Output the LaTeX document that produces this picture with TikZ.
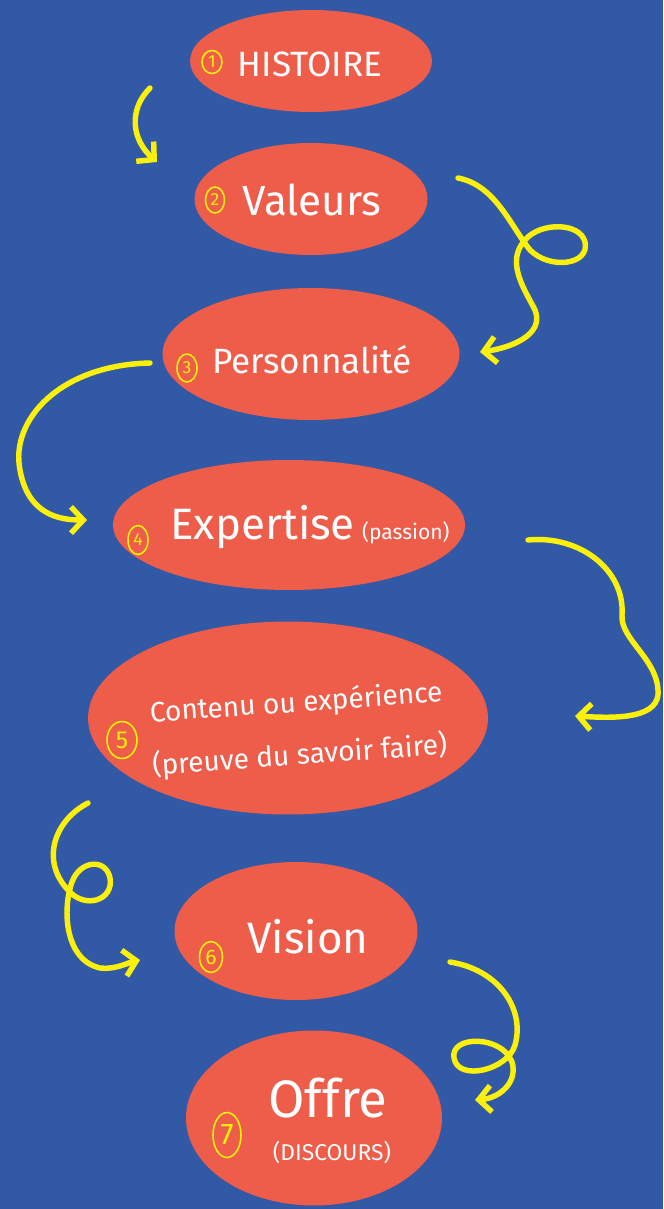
\documentclass[tikz,border=0pt]{standalone}
\usepackage{fontspec}
\setmainfont{Fira Sans}
\usetikzlibrary{shapes.geometric,arrows.meta}
\definecolor{fond}{RGB}{50,89,166}
\definecolor{bulle}{RGB}{238,92,74}
\definecolor{jaune}{RGB}{250,240,10}
\tikzset{
  bulle/.style={ellipse,fill=bulle,inner sep=0pt},
  texte/.style={text=white,align=center,inner sep=0pt},
  num/.style={ellipse,draw=jaune,text=jaune,line width=.9pt,inner sep=0pt,
    font=\fontsize{10}{11}\selectfont},
  fleche/.style={jaune,line width=3.1pt,line cap=round,
    -{Straight Barb[length=7pt,width=15pt]}}
}
\begin{document}
\begin{tikzpicture}[x=0.02cm,y=-0.02cm]
\fill[fond] (0,0) rectangle (663,1209);
% les bulles
\node[bulle,minimum width=4.84cm,minimum height=2.04cm] (b1) at (311,61) {};
\node[bulle,minimum width=4.66cm,minimum height=2.24cm] (b2) at (311,199) {};
\node[bulle,minimum width=5.94cm,minimum height=2.64cm] (b3) at (311,354) {};
\node[bulle,minimum width=7.04cm,minimum height=2.6cm] (b4) at (289,525) {};
\node[bulle,minimum width=8cm,minimum height=3.86cm] (b5) at (288,718) {};
\node[bulle,minimum width=4.86cm,minimum height=2.76cm] (b6) at (296,931) {};
\node[bulle,minimum width=5.12cm,minimum height=3.5cm] (b7) at (314,1118) {};
% textes
\node[texte,font=\fontsize{20}{22}\selectfont] (t1) at (310,64) {HISTOIRE};
\node[texte,font=\fontsize{24}{26}\selectfont] (t2) at (312,200) {Valeurs};
\node[texte,font=\fontsize{20}{22}\selectfont] (t3) at (312,360) {Personnalité};
\node[texte,font=\fontsize{25}{27}\selectfont] (t4) at (310,527)
  {Expertise\,{\fontsize{12}{13}\selectfont(passion)}};
\node[texte,font=\fontsize{16}{30}\selectfont,rotate=4] (t5) at (298,730)
  {Contenu ou expérience\\(preuve du savoir faire)};
\node[texte,font=\fontsize{25}{27}\selectfont] (t6) at (308,937) {Vision};
\node[texte,font=\fontsize{30}{32}\selectfont] (t7) at (328,1098) {Offre};
\node[texte,font=\fontsize{13}{14}\selectfont] (t7b) at (332,1152) {(DISCOURS)};
% numeros
\node[num,minimum width=.4cm,minimum height=.46cm] (n1) at (212,62) {1};
\node[num,minimum width=.38cm,minimum height=.52cm] (n2) at (215,200) {2};
\node[num,minimum width=.4cm,minimum height=.56cm] (n3) at (187,368) {3};
\node[num,minimum width=.4cm,minimum height=.58cm] (n4) at (138,540) {4};
\node[num,minimum width=.6cm,minimum height=.74cm,font=\fontsize{14}{15}\selectfont] (n5) at (122,740) {5};
\node[num,minimum width=.46cm,minimum height=.62cm,font=\fontsize{12}{13}\selectfont] (n6) at (211,957) {6};
\node[num,minimum width=.56cm,minimum height=.9cm,font=\fontsize{17}{18}\selectfont] (n7) at (227,1135) {7};
% fleches
\coordinate (d1) at (150,88);  \coordinate (f1) at (157,162);
\coordinate (d2) at (458,178); \coordinate (f2) at (480,352);
\coordinate (d3) at (150,363); \coordinate (f3) at (87,520);
\coordinate (d4) at (528,540); \coordinate (f4) at (575,716);
\coordinate (d5) at (88,803);  \coordinate (f5) at (140,960);
\coordinate (d6) at (450,962); \coordinate (f6) at (475,1100);
\draw[fleche] (d1) .. controls (128,110) and (132,140) .. (f1);
\draw[fleche] (d2) .. controls (495,185) and (510,225) .. (530,250)
  .. controls (550,270) and (590,265) .. (585,242)
  .. controls (580,222) and (540,222) .. (525,240)
  .. controls (505,262) and (525,290) .. (535,310)
  .. controls (545,335) and (510,348) .. (f2);
\draw[fleche] (d3) .. controls (60,365) and (10,420) .. (20,470)
  .. controls (28,515) and (60,520) .. (f3);
\draw[fleche] (d4) .. controls (580,535) and (625,570) .. (622,615)
  .. controls (620,640) and (660,660) .. (658,695)
  .. controls (655,720) and (610,718) .. (f4);
\draw[fleche] (d5) .. controls (55,820) and (40,860) .. (68,890)
  .. controls (85,910) and (114,900) .. (110,878)
  .. controls (106,858) and (80,860) .. (72,882)
  .. controls (62,910) and (65,960) .. (100,968)
  .. controls (115,970) and (130,962) .. (f5);
\draw[fleche] (d6) .. controls (500,970) and (525,1010) .. (515,1045)
  .. controls (508,1070) and (458,1082) .. (454,1058)
  .. controls (450,1035) and (502,1035) .. (512,1062)
  .. controls (518,1082) and (500,1098) .. (f6);
\end{tikzpicture}
\end{document}
